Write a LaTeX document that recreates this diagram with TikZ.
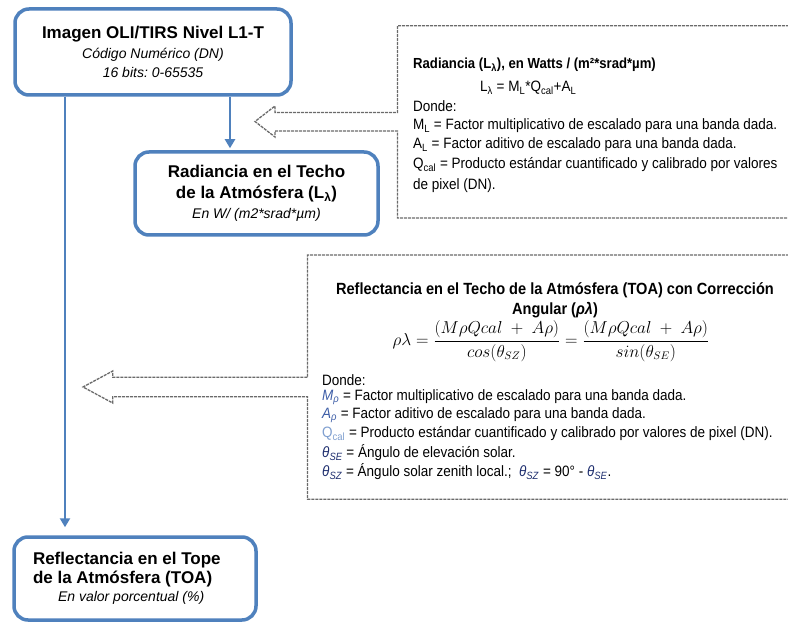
\documentclass[tikz,border=0pt]{standalone}
\usepackage{fontspec}
\setmainfont{Liberation Sans}
\newfontfamily\narrowfont[FakeStretch=0.9]{Liberation Sans}
\usetikzlibrary{arrows.meta}
\definecolor{boxblue}{HTML}{4F81BD}
\definecolor{dashgray}{HTML}{6A6A6A}
\definecolor{symblue}{HTML}{3F5FA8}
\definecolor{symlight}{HTML}{7F9FD0}
\definecolor{symnavy}{HTML}{1F2F6F}
\frenchspacing
\begin{document}
\begin{tikzpicture}[x=1pt,y=-1pt,
  blbox/.style={draw=boxblue, line width=3.5pt, rounded corners=14pt, fill=white, inner sep=0pt},
  blline/.style={draw=boxblue, line width=2.6pt},
  bltip/.style={-{Triangle[width=10pt,length=9pt]}},
  dashline/.style={draw=dashgray, line width=1.3pt, dash pattern=on 3pt off 1pt, line join=miter},
  txt/.style={inner sep=0pt, anchor=west, font=\narrowfont\fontsize{15}{17}\selectfont},
  ttl/.style={inner sep=0pt, font=\narrowfont\bfseries\fontsize{14.6}{20}\selectfont}]
\useasboundingbox (0,0) rectangle (788,623);
\fill[white] (0,0) rectangle (788,623);

% blue boxes
\node[blbox, minimum width=276pt, minimum height=86pt, align=flush center,
      font=\fontsize{17}{19.5}\selectfont] (img) at (153,52)
  {\bfseries Imagen OLI/TIRS Nivel L1-T\\
   \itshape\fontsize{14}{19.5}\selectfont Código Numérico (DN)\\
   \itshape\fontsize{14}{19.5}\selectfont 16 bits: 0-65535};
\node[blbox, minimum width=243pt, minimum height=83pt, align=flush center,
      font=\bfseries\fontsize{17}{20.5}\selectfont] (rad) at (256.5,193.5)
  {Radiancia en el Techo\\
   de la Atmósfera (L\textsubscript{λ})\\
   \mdseries\itshape\fontsize{14}{20.5}\selectfont En W/ (m2*srad*µm)};
\node[blbox, minimum width=242pt, minimum height=83pt, align=flush left, text width=204pt,
      font=\bfseries\fontsize{17}{18.5}\selectfont] (toa) at (135,578.5)
  {Reflectancia en el Tope\\
   de la Atmósfera (TOA)\\
   \mdseries\itshape\fontsize{14}{19.5}\selectfont\hspace*{25pt}En valor porcentual (\%)};

% blue connectors
\coordinate (c1) at (230,0);
\coordinate (c2) at (65,0);
\draw[blline,bltip,shorten >=2pt] (img.south -| c1) -- (rad.north -| c1);
\draw[blline,bltip,shorten >=8pt] (img.south -| c2) -- (toa.north -| c2);

% dashed callout 1 (radiance)
\draw[dashline] (789,25.7) -- (397.5,25.7) -- (397.5,112.5) -- (275,112.5) -- (275,106)
  -- (255,121.5) -- (275,137) -- (275,131) -- (397.5,131) -- (397.5,218) -- (789,218);
\node[ttl, anchor=west] (r1) at (413,65) {Radiancia (L\textsubscript{λ}), en Watts / (m²*srad*µm)};
\node[txt] (r2) at (480,88) {L\textsubscript{λ} = M\textsubscript{L}*Q\textsubscript{cal}+A\textsubscript{L}};
\node[txt] (r3) at (413,106) {Donde:};
\node[txt] (r4) at (413,126) {M\textsubscript{L} = Factor multiplicativo de escalado para una banda dada.};
\node[txt] (r5) at (413,145) {A\textsubscript{L} = Factor aditivo de escalado para una banda dada.};
\node[txt] (r6) at (413,165) {Q\textsubscript{cal} = Producto estándar cuantificado y calibrado por valores};
\node[txt] (r7) at (413,186) {de pixel (DN).};

% dashed callout 2 (reflectance)
\draw[dashline] (789,255) -- (307.5,255) -- (307.5,377.3) -- (112.7,377.3) -- (112.7,371)
  -- (83,387) -- (112.7,403) -- (112.7,396.7) -- (307.5,396.7) -- (307.5,499.3) -- (789,499.3);
\node[inner sep=0pt, align=flush center, font=\narrowfont\bfseries\fontsize{16.2}{20}\selectfont] (f1) at (555,300)
  {Reflectancia en el Techo de la Atmósfera (TOA) con Corrección\\Angular (\textit{ρλ})};
\node[inner sep=0pt, font=\fontsize{16}{18}\selectfont] (f2) at (551,341)
  {$\displaystyle \rho\lambda = \frac{(M\rho Qcal\ +\ A\rho)}{cos(\theta_{SZ})} = \frac{(M\rho Qcal\ +\ A\rho)}{sin(\theta_{SE})}$};
\node[txt] (f3) at (322,380) {Donde:};
\node[txt] (f4) at (322,397) {\textcolor{symblue}{\textit{M}\textsubscript{\textit{ρ}}} = Factor multiplicativo de escalado para una banda dada.};
\node[txt] (f5) at (322,415) {\textcolor{symblue}{\textit{A}\textsubscript{\textit{ρ}}} = Factor aditivo de escalado para una banda dada.};
\node[txt] (f6) at (322,434) {\textcolor{symlight}{Q\textsubscript{cal}} = Producto estándar cuantificado y calibrado por valores de pixel (DN).};
\node[txt] (f7) at (322,453) {\textcolor{symnavy}{\textit{θ}\textsubscript{\textit{SE}}} = Ángulo de elevación solar.};
\node[txt] (f8) at (322,472) {\textcolor{symnavy}{\textit{θ}\textsubscript{\textit{SZ}}} = Ángulo solar zenith local.;\ \ \textcolor{symnavy}{\textit{θ}\textsubscript{\textit{SZ}}} = 90° - \textcolor{symnavy}{\textit{θ}\textsubscript{\textit{SE}}}.};
\end{tikzpicture}
\end{document}
